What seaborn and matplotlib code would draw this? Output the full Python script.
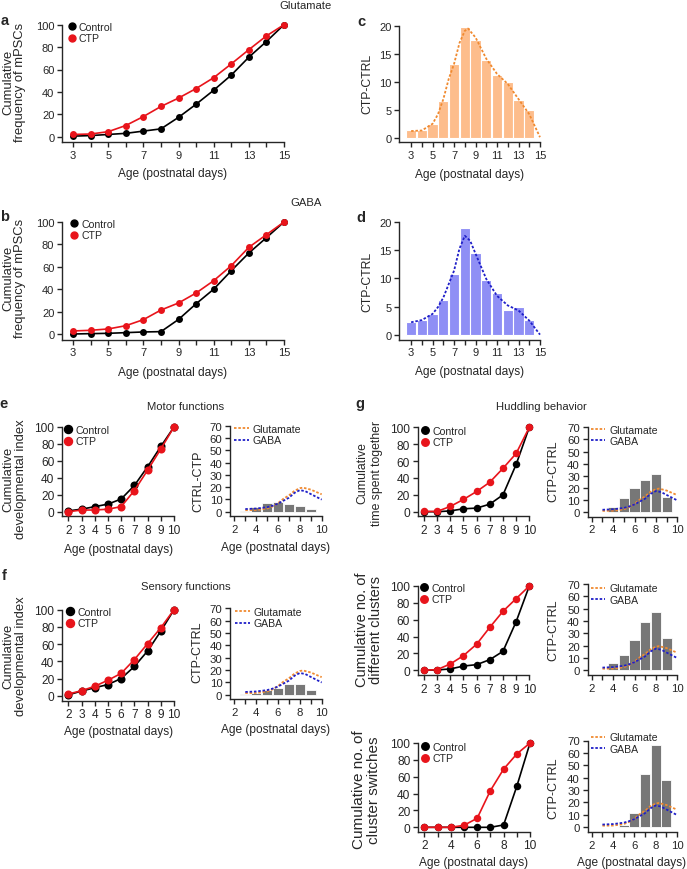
import matplotlib.pyplot as plt
import numpy as np
import seaborn as sns
from matplotlib.lines import Line2D

sns.set_style("ticks")
plt.rcParams['font.family'] = ['Liberation Sans', 'DejaVu Sans']

# ---- values ----
mpsc_days = list(range(3, 16))
glu_ctrl = [0.5, 1, 2, 3, 5, 7, 17.3, 29, 41.5, 55, 71, 85, 100]
glu_ctp = [2, 2.4, 4.5, 10, 18, 27, 34.5, 43, 52.7, 65, 77.7, 90, 100]
gaba_ctrl = [0, 0.3, 0.6, 1.2, 1.8, 2.1, 13, 27, 40, 56.5, 72.3, 86, 100]
gaba_ctp = [2.7, 3.3, 4.5, 7.4, 12.8, 21.4, 27.7, 36.6, 47.6, 61, 77.4, 88.7, 100]

bar_days = list(range(3, 15))
glu_diff = [1.5, 1.5, 2.5, 6.7, 13.2, 19.8, 17.6, 14.0, 11.3, 10.1, 6.9, 5.1]
gaba_diff = [2.3, 2.55, 3.6, 6.2, 10.8, 19.05, 14.5, 9.8, 7.4, 4.3, 4.9, 2.6]

# smoothed profiles (dashed lines)
glu_curve_x = [3, 4, 5, 5.5, 6, 6.5, 7, 7.5, 8, 8.3, 9, 10, 11, 12, 13, 14, 15]
glu_curve_y = [1.3, 1.4, 2.6, 4.3, 7, 10.6, 13.3, 17, 19.2, 19.6, 18, 14.2, 11.5, 9.7, 7, 4.3, 0.2]
gaba_curve_x = [3, 4, 5, 5.5, 6, 6.5, 7, 7.5, 8, 8.5, 9, 10, 11, 12, 13, 14, 15]
gaba_curve_y = [2.2, 2.6, 3.7, 4.9, 6.6, 9, 11.4, 15.3, 17.6, 16.7, 14.4, 9.9, 6.9, 5.2, 4.3, 2.5, 0]

behav_days = list(range(2, 11))
motor_ctrl = [1, 3, 6, 9, 15, 31, 53, 77, 100]
motor_ctp = [0, 2, 2, 3, 6, 25, 49, 74, 100]
sensory_ctrl = [1, 5.4, 9.3, 13, 20, 34, 52, 75, 100]
sensory_ctp = [2, 5.8, 11, 18, 26, 42, 60.5, 79, 100]
huddle_ctrl = [0, 0, 1, 3.5, 4.3, 9, 20, 56, 100]
huddle_ctp = [0.4, 0.4, 6.3, 14.6, 24, 35, 51.4, 69, 100]
clusters_ctrl = [0, 0.4, 1.6, 5, 6.7, 12.6, 22.5, 57.7, 100]
clusters_ctp = [0, 0.8, 7.5, 17.4, 31, 51, 70, 85, 100]
switches_ctrl = [0, 0, 0, 0, 0, 0, 2.8, 48.6, 100]
switches_ctp = [0, 0, 0, 2.4, 10.7, 43.5, 69, 87, 100]

diff_days = list(range(3, 10))
motor_diff = [0.5, 3.5, 6.8, 7.6, 6.0, 4.3, 2.2]
sensory_diff = [0.3, 1.4, 4.0, 5.1, 8.4, 8.4, 3.8]
huddle_diff = [0.3, 4.4, 11.5, 20, 27, 31.6, 12.4]
clusters_diff = [0.3, 5.7, 12.2, 24.4, 38.8, 46.9, 26.3]
switches_diff = [0, 0.3, 2.1, 11.2, 43.3, 66, 38]

mpsc_ticks = list(range(3, 16))
mpsc_labels = [str(d) if d % 2 else '' for d in mpsc_ticks]
behav_ticks = list(range(2, 11))
behav_labels_all = [str(d) for d in behav_ticks]
behav_labels_even = [str(d) if d % 2 == 0 else '' for d in behav_ticks]

BLACK = '#000000'
RED = '#e8141b'
ORANGE = '#f08a30'
BLUE = '#1f1fc8'
PEACH = '#fdbd8c'
LAVENDER = '#8f8ff5'
GREY = '#777777'
DOTS = (0, (1.4, 1.0))

W, H = 687, 870
fig = plt.figure(figsize=(W / 100, H / 100), dpi=100)


def box(left, top, right, bottom):
    return [left / W, 1 - bottom / H, (right - left) / W, (bottom - top) / H]


def txt(x, y, s, size=8.6, rot=0, **kw):
    fig.text(x / W, 1 - y / H, s, fontsize=size, rotation=rot,
             ha='center', va='center', **kw)


def ylab2(x1, x2, y, line1, line2, size):
    # two-line rotated y label, one text per line
    txt(x1, y, line1, size=size, rot=90)
    txt(x2, y, line2, size=size, rot=90)


def style(ax, xlim, ylim, xticks, xlabels, yticks, size):
    ax.set_xlim(*xlim)
    ax.set_ylim(*ylim)
    ax.set_xticks(xticks)
    ax.set_xticklabels(xlabels)
    ax.set_yticks(yticks)
    ax.set_xlabel('')
    ax.set_ylabel('')
    sns.despine(ax=ax)
    for sp in ['left', 'bottom']:
        ax.spines[sp].set_linewidth(1.0)
    ax.tick_params(direction='out', length=3.5, width=1.0, pad=2,
                   labelsize=size)


def legend_at(ax, handles, labels, x, y, hl):
    ax.legend(handles, labels, loc='upper left',
              bbox_to_anchor=(x / W, 1 - y / H), bbox_transform=fig.transFigure,
              frameon=False, handlelength=hl, handletextpad=0.35,
              borderaxespad=0, borderpad=0, labelspacing=0.12, fontsize=7.6)


def cum_panel(rect, days, ctrl, ctp, xlim, ylim, ticks, labels, ms, size, leg):
    ax = fig.add_axes(rect)
    sns.lineplot(x=days, y=ctrl, ax=ax, color=BLACK, marker='o', markersize=ms,
                 markeredgewidth=0, lw=1.2, clip_on=False, zorder=3)
    sns.lineplot(x=days, y=ctp, ax=ax, color=RED, marker='o', markersize=ms,
                 markeredgewidth=0, lw=1.2, clip_on=False, zorder=4)
    style(ax, xlim, ylim, ticks, labels, range(0, 101, 20), size)
    hs = [Line2D([], [], ls='none', marker='o', color=c, markersize=ms)
          for c in (BLACK, RED)]
    legend_at(ax, hs, ['Control', 'CTP'], leg[0], leg[1], 0.6)
    return ax


def diff_panel(rect, days, vals, leg, ylim):
    ax = fig.add_axes(rect)
    sns.barplot(x=days, y=vals, ax=ax, native_scale=True, width=0.95,
                color=GREY, saturation=1, edgecolor='white', linewidth=0.6,
                errorbar=None)
    gx = np.array(glu_curve_x)
    bx = np.array(gaba_curve_x)
    sns.lineplot(x=gx[gx <= 10], y=np.array(glu_curve_y)[gx <= 10], ax=ax,
                 color=ORANGE, lw=1.3, linestyle=DOTS, zorder=5)
    sns.lineplot(x=bx[bx <= 10], y=np.array(gaba_curve_y)[bx <= 10], ax=ax,
                 color=BLUE, lw=1.3, linestyle=DOTS, zorder=6)
    style(ax, (1.6, 10), ylim, behav_ticks, behav_labels_even,
          range(0, 71, 10), 8.2)
    hs = [Line2D([], [], color=c, lw=1.3, linestyle=DOTS) for c in (ORANGE, BLUE)]
    legend_at(ax, hs, ['Glutamate', 'GABA'], leg[0], leg[1], 1.4)
    return ax


def hist_panel(rect, vals, color, cx, cy, line_color, ylim):
    ax = fig.add_axes(rect)
    sns.barplot(x=bar_days, y=vals, ax=ax, native_scale=True, width=0.95,
                color=color, saturation=1, edgecolor='white', linewidth=0.8,
                errorbar=None)
    sns.lineplot(x=cx, y=cy, ax=ax, color=line_color, lw=1.3, linestyle=DOTS,
                 zorder=5, clip_on=False)
    style(ax, (1.9, 15), ylim, mpsc_ticks, mpsc_labels, range(0, 21, 5), 8)
    return ax


# ---- a / b ----
cum_panel(box(62, 25.7, 284, 143.3), mpsc_days, glu_ctrl, glu_ctp,
          (2.37, 15), (-5, 100), mpsc_ticks, mpsc_labels, 5.0, 8, (68.6, 23))
cum_panel(box(62, 223, 284, 340.7), mpsc_days, gaba_ctrl, gaba_ctp,
          (2.37, 15), (-5.1, 100), mpsc_ticks, mpsc_labels, 5.0, 8, (71, 220))

# ---- c / d ----
hist_panel(box(399.3, 27.3, 540, 143.3), glu_diff, PEACH,
           glu_curve_x, glu_curve_y, ORANGE, (-0.71, 20))
hist_panel(box(399.3, 223.3, 540, 340.7), gaba_diff, LAVENDER,
           gaba_curve_x, gaba_curve_y, BLUE, (-0.9, 20))

# ---- e / f ----
cum_panel(box(62, 428, 174, 517.3), behav_days, motor_ctrl, motor_ctp,
          (1.52, 10), (-5.4, 100), behav_ticks, behav_labels_all, 5.8, 8.6, (65, 426))
diff_panel(box(230, 426.7, 321.7, 517.3), diff_days, motor_diff, (234.3, 425), (-3.7, 70))
cum_panel(box(62, 610.7, 174, 701.7), behav_days, sensory_ctrl, sensory_ctp,
          (1.52, 10), (-5.8, 100), behav_ticks, behav_labels_all, 5.8, 8.6, (67, 608))
diff_panel(box(230, 609.3, 321.7, 700), diff_days, sensory_diff, (235, 608), (-3.5, 70))

# ---- g ----
cum_panel(box(417.7, 428.3, 529.3, 517.3), behav_days, huddle_ctrl, huddle_ctp,
          (1.52, 10), (-5.4, 100), behav_ticks, behav_labels_all, 5.4, 8.6, (422, 427))
diff_panel(box(587.5, 428.3, 677.3, 517.7), diff_days, huddle_diff, (590.7, 425.7), (-3.5, 70))
cum_panel(box(417.7, 587, 529.3, 676), behav_days, clusters_ctrl, clusters_ctp,
          (1.52, 10), (-5.6, 100), behav_ticks, behav_labels_all, 5.4, 8.6, (421, 584))
diff_panel(box(587.5, 585, 677.3, 676), diff_days, clusters_diff, (590.7, 584.3), (-3.8, 70))
cum_panel(box(418, 744, 530, 832.7), behav_days, switches_ctrl, switches_ctp,
          (1.52, 10), (-5.2, 100), behav_ticks, behav_labels_even, 5.4, 8.6, (422, 743))
diff_panel(box(587.5, 741.5, 677, 833), diff_days, switches_diff, (590.7, 733.3), (-3.8, 70))

# ---- panel letters, titles, axis labels ----
for x, y, s in [(5, 21, 'a'), (5, 217, 'b'), (361, 22, 'c'), (361, 218, 'd'),
                (4, 404, 'e'), (4, 576, 'f'), (360, 404, 'g')]:
    txt(x, y, s, size=10.5, fontweight='bold')

for x, y, s in [(306, 6, 'Glutamate'), (306, 203, 'GABA'),
                (186, 407, 'Motor functions'), (186, 587, 'Sensory functions'),
                (541, 407, 'Huddling behavior')]:
    txt(x, y, s, size=8.1)

age = 'Age (postnatal days)'
for x, y in [(173, 174), (173, 372.7), (470, 175), (470, 371.7),
             (118.7, 550), (276, 548.3), (118.7, 731.7), (276, 730),
             (474, 863.3), (632, 863.3)]:
    txt(x, y, age, size=8.6)

ylab2(8.3, 20, 82, 'Cumulative', 'frequency of mPSCs', 9.4)
ylab2(8.3, 20, 278, 'Cumulative', 'frequency of mPSCs', 9.4)
txt(367, 84, 'CTP-CTRL', size=8.8, rot=90)
txt(367, 282, 'CTP-CTRL', size=8.8, rot=90)
ylab2(8, 21, 479, 'Cumulative', 'developmental index', 9.4)
txt(198, 481, 'CTRL-CTP', size=9.0, rot=90)
ylab2(8, 21, 656, 'Cumulative', 'developmental index', 9.4)
txt(197.5, 652, 'CTP-CTRL', size=9.0, rot=90)
ylab2(362.5, 377, 473, 'Cumulative', 'time spent together', 8.8)
txt(553, 471, 'CTP-CTRL', size=9.0, rot=90)
ylab2(362, 376, 630, 'Cumulative no. of', 'different clusters', 10.5)
txt(553, 630, 'CTP-CTRL', size=9.0, rot=90)
ylab2(359, 374, 790, 'Cumulative no. of', 'cluster switches', 11.0)
txt(553, 788, 'CTP-CTRL', size=9.0, rot=90)

fig.savefig('out.png', dpi=100)
